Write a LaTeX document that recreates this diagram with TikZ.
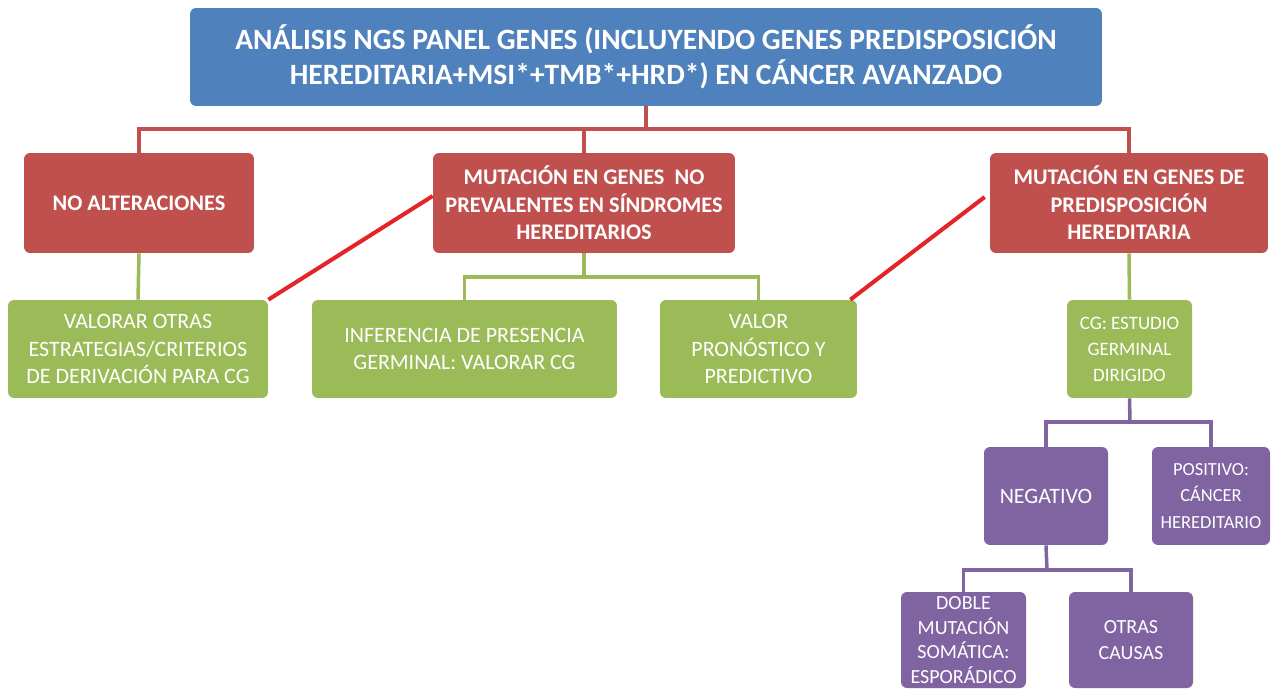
\documentclass[tikz,border=0pt]{standalone}
\usepackage{fontspec}
\setmainfont{Carlito}
\usetikzlibrary{positioning, calc}

\definecolor{tblue}{HTML}{4F81BD}
\definecolor{tred}{HTML}{C0504D}
\definecolor{tgreen}{HTML}{9BBB59}
\definecolor{tpurple}{HTML}{8064A2}
\definecolor{tbright}{HTML}{E42428}

\tikzset{
  box/.style={rectangle, rounded corners=0.12cm, text=white, align=center, inner sep=0pt},
  titlebox/.style={box, fill=tblue, font=\fontsize{16.8}{20}\selectfont\bfseries},
  redbox/.style={box, fill=tred, font=\fontsize{12.7}{15.6}\selectfont\bfseries},
  greenbox/.style={box, fill=tgreen, font=\fontsize{12.5}{15.6}\selectfont},
  purplebox/.style={box, fill=tpurple},
  redline/.style={draw=tred, line width=2pt},
  greenline/.style={draw=tgreen, line width=2pt},
  purpleline/.style={draw=tpurple, line width=2pt},
  crossline/.style={draw=tbright, line width=2.3pt}
}

\begin{document}
\begin{tikzpicture}[x=0.02cm, y=-0.02cm]
\useasboundingbox (0,0) rectangle (1271,690);

\node[titlebox, minimum width=18.24cm, minimum height=1.96cm] (title) at (646,57)
  {ANÁLISIS NGS PANEL GENES (INCLUYENDO GENES PREDISPOSICIÓN\\HEREDITARIA+MSI*+TMB*+HRD*) EN CÁNCER AVANZADO};

\node[redbox, minimum width=4.6cm, minimum height=2cm] (noalt) at (139,203) {NO ALTERACIONES};
\node[redbox, minimum width=6.04cm, minimum height=2cm] (prev) at (584,203)
  {MUTACIÓN EN GENES \ NO\\PREVALENTES EN SÍNDROMES\\HEREDITARIOS};
\node[redbox, minimum width=5.56cm, minimum height=2cm] (pred) at (1129,203)
  {MUTACIÓN EN GENES DE\\PREDISPOSICIÓN\\HEREDITARIA};

\node[greenbox, minimum width=5.2cm, minimum height=1.96cm] (otras) at (138,349)
  {VALORAR OTRAS\\ESTRATEGIAS/CRITERIOS\\DE DERIVACIÓN PARA CG};
\node[greenbox, minimum width=6.1cm, minimum height=1.96cm] (infer) at (464.5,349)
  {INFERENCIA DE PRESENCIA\\GERMINAL: VALORAR CG};
\node[greenbox, minimum width=3.94cm, minimum height=1.96cm] (valor) at (758.5,349)
  {VALOR\\PRONÓSTICO Y\\PREDICTIVO};
\node[greenbox, minimum width=2.5cm, minimum height=1.96cm, font=\fontsize{10.8}{14.8}\selectfont] (cg) at (1129.5,349)
  {CG: ESTUDIO\\GERMINAL\\DIRIGIDO};

\node[purplebox, minimum width=2.48cm, minimum height=1.96cm, font=\fontsize{12.5}{15.6}\selectfont] (neg) at (1046,496) {NEGATIVO};
\node[purplebox, minimum width=2.36cm, minimum height=1.96cm, font=\fontsize{10.5}{15}\selectfont] (pos) at (1211,496)
  {POSITIVO:\\CÁNCER\\HEREDITARIO};
\node[purplebox, minimum width=2.5cm, minimum height=1.92cm, font=\fontsize{11.4}{14}\selectfont] (doble) at (963.5,640)
  {DOBLE\\MUTACIÓN\\SOMÁTICA:\\ESPORÁDICO};
\node[purplebox, minimum width=2.48cm, minimum height=1.92cm, font=\fontsize{11.4}{14.5}\selectfont] (causas) at (1131,640)
  {OTRAS\\CAUSAS};

% red tree
\coordinate (rbus) at (646,129);
\draw[redline] (title.south) -- (rbus);
\draw[redline] (noalt.north) |- (rbus) -| (pred.north);
\draw[redline] (prev.north) -- (prev.north |- rbus);

% green branches
\coordinate (gbus) at (584,277);
\draw[greenline] (noalt.south) -- (otras.north);
\draw[greenline] (prev.south) -- (gbus);
\draw[greenline] (infer.north) |- (gbus) -| (valor.north);
\draw[greenline] (pred.south) -- (cg.north);

% purple branches
\coordinate (pbus) at (1130,422);
\draw[purpleline] (cg.south) -- (pbus);
\draw[purpleline] (neg.north) |- (pbus) -| (pos.north);
\coordinate (qbus) at (1047,570);
\draw[purpleline] (neg.south) -- (qbus);
\draw[purpleline] (doble.north) |- (qbus) -| (causas.north);

% crossing lines
\draw[crossline] (otras.north east) -- ([yshift=0.14cm]prev.west);
\draw[crossline] ([xshift=-0.14cm]valor.north east) -- ([xshift=-0.1cm, yshift=0.12cm]pred.west);
\end{tikzpicture}
\end{document}
